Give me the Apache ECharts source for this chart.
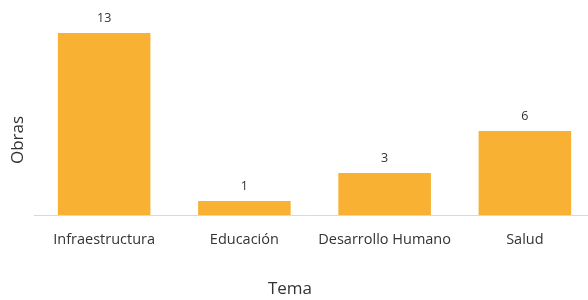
<!DOCTYPE html>
<html>
<head>
<meta charset="utf-8">
<script src="https://cdn.jsdelivr.net/npm/echarts@6/dist/echarts.min.js"></script>
<style>
	html, body { margin: 0; padding: 0; background: #fff; }
	#chart { width: 588px; height: 300px; }
</style>
</head>
<body>
<div id="chart"></div>
<script>
const categories = ['Infraestructura', 'Educación', 'Desarrollo Humano', 'Salud'];
const obras = [13, 1, 3, 6];

const getOption = () => {
	return {
		animation: false,
		textStyle: { fontFamily: 'Open Sans' },
		grid: { left: 34, top: 19, width: 561, bottom: 85, outerBoundsMode: 'none', containLabel: false },
		xAxis: {
			type: 'category',
			data: categories,
			axisLine: { lineStyle: { color: '#d9d9d9', width: 1 } },
			axisTick: { show: false },
			axisLabel: { color: '#333', fontSize: 14.5, margin: 17, interval: 0 }
		},
		yAxis: {
			type: 'value',
			min: 0,
			max: 14,
			show: false
		},
		graphic: [
			{
				type: 'text',
				x: 290, y: 289,
				style: { text: 'Tema', fill: '#333', fontSize: 17, fontFamily: 'Open Sans', align: 'center', verticalAlign: 'middle' }
			},
			{
				type: 'text',
				x: 18, y: 140,
				rotation: Math.PI / 2,
				style: { text: 'Obras', fill: '#333', fontSize: 17, fontFamily: 'Open Sans', align: 'center', verticalAlign: 'middle' }
			}
		],
		series: [
			{
				type: 'bar',
				data: obras,
				barCategoryGap: '34%',
				itemStyle: { color: '#F8B133' },
				label: {
					show: true,
					position: 'top',
					distance: 8,
					color: '#333',
					fontSize: 12.5
				}
			}
		]
	};
};

const chart = echarts.init(document.getElementById('chart'));
chart.setOption(getOption());
</script>
</body>
</html>
